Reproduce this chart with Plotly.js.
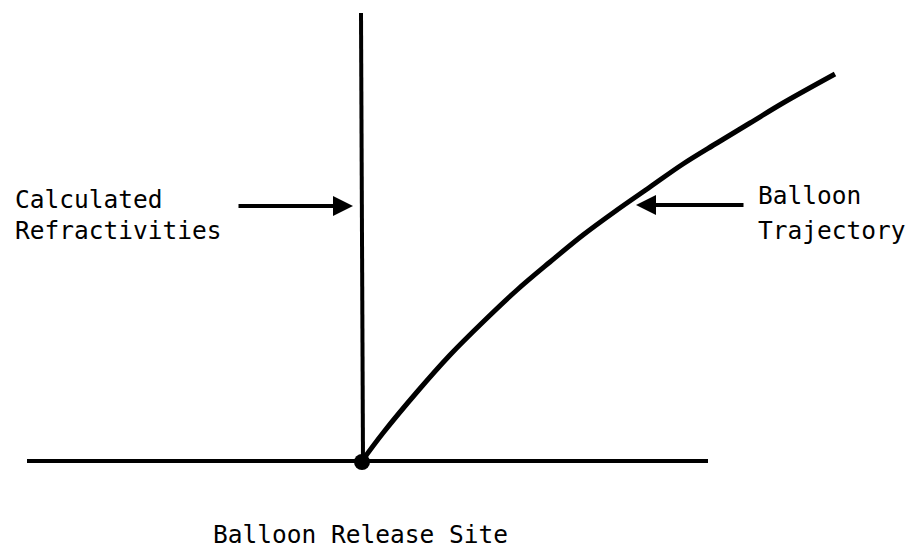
<!DOCTYPE html>
<html>
<head>
<meta charset="utf-8">
<script src="https://cdn.plot.ly/plotly-3.0.1.min.js"></script>
<style>
html,body{margin:0;padding:0;background:#fff;}
#chart{width:912px;height:551px;}
</style>
</head>
<body>
<div id="chart"></div>
<script>
// Diagram coordinates (x to the right, y upward)
var groundX = [27, 708];
var groundY = [90, 90];
var refrX = [363, 361];
var refrY = [90, 538];
var trajX = [362, 383, 417, 450, 483, 517, 550, 583, 617, 650, 683, 717, 750, 783, 835];
var trajY = [90, 118, 159, 196, 229, 261, 289, 316, 341, 364, 387, 408, 428, 448, 477];
var siteX = [362];
var siteY = [89];
var labelTexts = ["Calculated", "Refractivities", "Balloon", "Trajectory", "Balloon Release Site"];
var labelX = [13, 13, 756, 756, 360];
var labelY = [352, 321, 356, 321, 17];
var arrowTipX = [353, 636];
var arrowTipY = [345, 346];
var arrowTailX = [237, 745];
var arrowTailY = [345, 346];

var lineStyle = {color: '#000', width: 4};
var traces = [
  {x: groundX, y: groundY, mode: 'lines', line: lineStyle, hoverinfo: 'skip'},
  {x: refrX, y: refrY, mode: 'lines', line: lineStyle, hoverinfo: 'skip'},
  {x: trajX, y: trajY, mode: 'lines', line: {color: '#000', width: 5, shape: 'spline', smoothing: 1}, hoverinfo: 'skip'},
  {x: siteX, y: siteY, mode: 'markers', marker: {color: '#000', size: 16}, hoverinfo: 'skip'}
];

var font = {family: 'DejaVu Sans Mono', size: 24.5, color: '#000'};
var annotations = [];
for (var i = 0; i < labelTexts.length; i++) {
  annotations.push({
    x: labelX[i], y: labelY[i], xref: 'x', yref: 'y',
    text: labelTexts[i], showarrow: false,
    xanchor: i === 4 ? 'center' : 'left', yanchor: 'middle',
    font: font
  });
}
for (var j = 0; j < arrowTipX.length; j++) {
  annotations.push({
    x: arrowTipX[j], y: arrowTipY[j], ax: arrowTailX[j], ay: arrowTailY[j],
    xref: 'x', yref: 'y', axref: 'x', ayref: 'y',
    text: '', showarrow: true, arrowhead: 2, arrowsize: 1, arrowwidth: 4,
    arrowcolor: '#000'
  });
}

var layout = {
  width: 912, height: 551,
  margin: {l: 0, r: 0, t: 0, b: 0},
  paper_bgcolor: '#fff', plot_bgcolor: '#fff',
  showlegend: false,
  xaxis: {range: [0, 912], visible: false, fixedrange: true},
  yaxis: {range: [0, 551], visible: false, fixedrange: true},
  annotations: annotations
};

Plotly.newPlot('chart', traces, layout, {staticPlot: true, displayModeBar: false});
</script>
</body>
</html>
